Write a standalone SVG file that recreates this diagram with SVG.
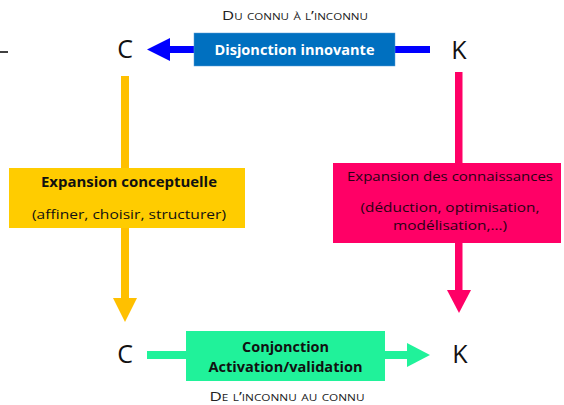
<svg xmlns="http://www.w3.org/2000/svg" width="564" height="405" viewBox="0 0 564 405">
<style>
text{font-family:"Open Sans","Liberation Sans",sans-serif}
.big{font-size:25px;fill:#111}
.cap{font-size:13px;font-variant:small-caps;fill:#222}
.b{font-weight:bold;font-size:13.5px}
.r{font-size:13.5px}
</style>
<rect width="564" height="405" fill="#fff"/>
<line x1="0" y1="52" x2="8" y2="52" stroke="#000" stroke-width="1.5"/>
<text class="cap" x="295" y="20" text-anchor="middle" textLength="146" lengthAdjust="spacingAndGlyphs">Du connu à l’inconnu</text>
<text class="cap" x="287" y="401" text-anchor="middle" textLength="155" lengthAdjust="spacingAndGlyphs">De l’inconnu au connu</text>
<g id="connectors">
  <g id="edge-disjonction">
    <rect x="170" y="46" width="260" height="7" fill="#0000FF"/>
    <polygon points="147,49.5 170,38 170,61" fill="#0000FF"/>
  </g>
  <g id="edge-conceptuelle">
    <rect x="121" y="76" width="8" height="223" fill="#FFC000"/>
    <polygon points="113,298 137,298 125,322" fill="#FFC000"/>
  </g>
  <g id="edge-connaissances">
    <rect x="455" y="72" width="7.5" height="219" fill="#FF0066"/>
    <polygon points="447,290 471,290 459,313" fill="#FF0066"/>
  </g>
  <g id="edge-conjonction">
    <rect x="147" y="351" width="261" height="8" fill="#20F29A"/>
    <polygon points="407,343 430,355 407,367" fill="#20F29A"/>
  </g>
</g>
<g id="node-c-top"><text class="big" x="125" y="58" text-anchor="middle">C</text></g>
<g id="node-k-top"><text class="big" x="459" y="59" text-anchor="middle">K</text></g>
<g id="node-c-bottom"><text class="big" x="125" y="363" text-anchor="middle">C</text></g>
<g id="node-k-bottom"><text class="big" x="460" y="363" text-anchor="middle">K</text></g>
<g id="label-disjonction">
  <rect x="194" y="33" width="201" height="33" fill="#0070C0" stroke="#5a9bd5" stroke-width="0.5"/>
  <text class="b" x="294.5" y="55" text-anchor="middle" fill="#fff" textLength="160" lengthAdjust="spacingAndGlyphs">Disjonction innovante</text>
</g>
<g id="label-conceptuelle">
  <rect x="9" y="168" width="236" height="60" fill="#FFCC00"/>
  <text class="b" x="129" y="187" text-anchor="middle" fill="#111" textLength="176" lengthAdjust="spacingAndGlyphs">Expansion conceptuelle</text>
  <text class="r" x="129" y="219" text-anchor="middle" fill="#111" textLength="194" lengthAdjust="spacingAndGlyphs">(affiner, choisir, structurer)</text>
</g>
<g id="label-connaissances">
  <rect x="333" y="163" width="228" height="80" fill="#FF0066"/>
  <text class="r" x="450" y="181" text-anchor="middle" fill="#2a0014" textLength="206" lengthAdjust="spacingAndGlyphs">Expansion des connaissances</text>
  <text class="r" x="450" y="212" text-anchor="middle" fill="#2a0014" textLength="179" lengthAdjust="spacingAndGlyphs">(déduction, optimisation,</text>
  <text class="r" x="450" y="230" text-anchor="middle" fill="#2a0014" textLength="114" lengthAdjust="spacingAndGlyphs">modélisation,…)</text>
</g>
<g id="label-conjonction">
  <rect x="186" y="331" width="199" height="50" fill="#20F29A"/>
  <text class="b" x="285.5" y="352" text-anchor="middle" fill="#111" textLength="87" lengthAdjust="spacingAndGlyphs">Conjonction</text>
  <text class="b" x="285.5" y="372" text-anchor="middle" fill="#111" textLength="154" lengthAdjust="spacingAndGlyphs">Activation/validation</text>
</g>
</svg>
